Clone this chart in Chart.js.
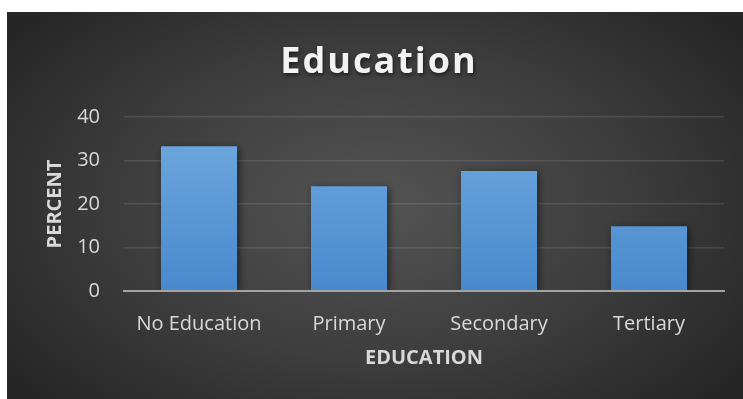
<!DOCTYPE html>
<html>
<head>
<meta charset="utf-8">
<title>Education</title>
<script src="https://cdn.jsdelivr.net/npm/chart.js@4.4.1/dist/chart.umd.min.js"></script>
<style>
    html, body { margin: 0; padding: 0; background: #ffffff; }
    #wrap { position: absolute; left: 7px; top: 12px; width: 736px; height: 387px; }
</style>
</head>
<body>
<div id="wrap"><canvas id="eduChart" width="736" height="387"></canvas></div>
<script>
// chart data
const chartTitle = 'Education';
const categories = ['No Education', 'Primary', 'Secondary', 'Tertiary'];
const percents = [33.3, 24.1, 27.6, 14.9];
const yTicks = [0, 10, 20, 30, 40];
const xTitle = 'EDUCATION';
const yTitle = 'PERCENT';

const FONT = "'Open Sans', 'DejaVu Sans', sans-serif";

// dark radial background behind everything
const backdrop = {
    id: 'backdrop',
    beforeDraw(chart) {
        const { ctx, width, height } = chart;
        ctx.save();
        ctx.translate(width / 2, height / 2);
        ctx.scale(1, 0.62);
        const g = ctx.createRadialGradient(0, 0, 0, 0, 0, width * 0.62);
        g.addColorStop(0, '#545454');
        g.addColorStop(0.55, '#3d3d3d');
        g.addColorStop(1, '#262626');
        ctx.fillStyle = g;
        ctx.fillRect(-width, -height / 0.62, width * 2, height * 2 / 0.62);
        ctx.restore();
    }
};

// big spaced title with a soft drop shadow
const bigTitle = {
    id: 'bigTitle',
    afterDraw(chart) {
        const { ctx, width } = chart;
        ctx.save();
        ctx.font = 'bold 36px ' + FONT;
        ctx.letterSpacing = '2px';
        ctx.textAlign = 'center';
        ctx.textBaseline = 'alphabetic';
        ctx.shadowColor = 'rgba(0,0,0,0.6)';
        ctx.shadowBlur = 4;
        ctx.shadowOffsetX = 1;
        ctx.shadowOffsetY = 2;
        ctx.fillStyle = '#f2f2f2';
        ctx.fillText(chartTitle, width / 2 + 4, 61);
        ctx.restore();
    }
};

// shadow under the bars
const barShadow = {
    id: 'barShadow',
    beforeDatasetsDraw(chart) {
        const ctx = chart.ctx;
        ctx.save();
        ctx.shadowColor = 'rgba(0,0,0,0.55)';
        ctx.shadowBlur = 8;
        ctx.shadowOffsetX = 2;
        ctx.shadowOffsetY = 2;
    },
    afterDatasetsDraw(chart) {
        chart.ctx.restore();
    }
};

function barGradient(context) {
    const chart = context.chart;
    const area = chart.chartArea;
    if (!area) return '#5b9bd5';
    const g = chart.ctx.createLinearGradient(0, area.top, 0, area.bottom);
    g.addColorStop(0, '#72aae0');
    g.addColorStop(1, '#4889cd');
    return g;
}

const ctx = document.getElementById('eduChart').getContext('2d');
new Chart(ctx, {
    type: 'bar',
    data: {
        labels: categories,
        datasets: [{
            label: yTitle,
            data: percents,
            backgroundColor: barGradient,
            borderWidth: 0,
            barPercentage: 0.507,
            categoryPercentage: 1
        }]
    },
    options: {
        responsive: false,
        animation: false,
        layout: { padding: { top: 105, left: 0, right: 19, bottom: 0 } },
        plugins: {
            legend: { display: false },
            tooltip: { enabled: false }
        },
        scales: {
            x: {
                grid: { display: false, z: 1 },
                border: { display: true, color: '#a3a3a3', width: 2, z: 1 },
                ticks: {
                    color: '#d9d9d9',
                    font: { family: FONT, size: 20 },
                    padding: 13
                },
                title: {
                    display: true,
                    text: xTitle,
                    color: '#d9d9d9',
                    font: { family: FONT, size: 20, weight: 'bold' },
                    padding: { top: 0, bottom: 29 }
                },
                afterFit(scale) { scale.height = 108; }
            },
            y: {
                min: 0,
                max: 40,
                afterBuildTicks(scale) {
                    scale.ticks = yTicks.map(v => ({ value: v }));
                },
                grid: {
                    color: 'rgba(255,255,255,0.11)',
                    lineWidth: 1.5,
                    drawTicks: false
                },
                border: { display: false },
                ticks: {
                    color: '#d9d9d9',
                    font: { family: FONT, size: 20 },
                    padding: 24
                },
                title: {
                    display: true,
                    text: yTitle,
                    color: '#d9d9d9',
                    font: { family: FONT, size: 20, weight: 'bold' },
                    padding: { top: 36, bottom: 0 }
                },
                afterFit(scale) { scale.width = 117; }
            }
        }
    },
    plugins: [backdrop, barShadow, bigTitle]
});
</script>
</body>
</html>
